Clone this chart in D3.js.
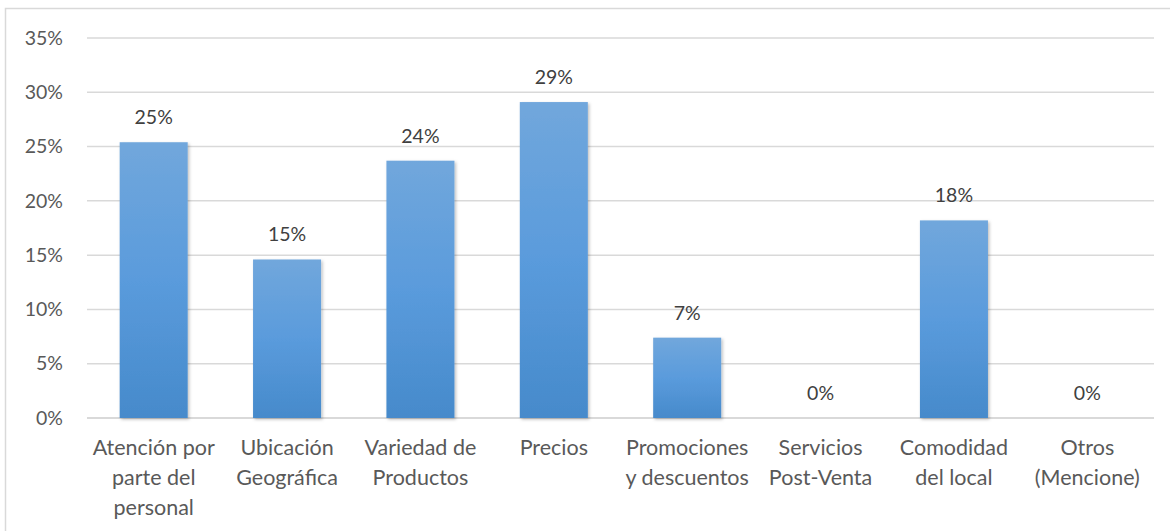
<!DOCTYPE html>
<html>
<head>
<meta charset="utf-8">
<script src="https://cdn.jsdelivr.net/npm/d3@7"></script>
<style>
  html, body { margin: 0; padding: 0; background: #ffffff; }
  svg { display: block; font-family: Lato, "Open Sans", sans-serif; }
</style>
</head>
<body>
<svg id="chart" width="1170" height="531"></svg>
<script>
// Factors valued by customers (share of responses)
const categories = [
  "Atención por\nparte del\npersonal",
  "Ubicación\nGeográfica",
  "Variedad de\nProductos",
  "Precios",
  "Promociones\ny descuentos",
  "Servicios\nPost-Venta",
  "Comodidad\ndel local",
  "Otros\n(Mencione)"
];
const values = [0.254, 0.146, 0.237, 0.291, 0.074, 0, 0.182, 0];
const yTicks = [0, 0.05, 0.10, 0.15, 0.20, 0.25, 0.30, 0.35];

const svg = d3.select("#chart");
const W = 1170, H = 531;
const margin = { left: 87, right: 16, top: 38, bottom: 113 };

// Outer frame of the chart area
svg.append("rect")
  .attr("x", 5.5).attr("y", 8.5)
  .attr("width", W + 10).attr("height", H + 10)
  .attr("fill", "#ffffff")
  .attr("stroke", "#d9d9d9").attr("stroke-width", 1.5);

const x = d3.scaleBand()
  .domain(categories)
  .range([margin.left, W - margin.right])
  .paddingInner(0.49)
  .paddingOuter(0.245);

const y = d3.scaleLinear()
  .domain([0, 0.35])
  .range([H - margin.bottom, margin.top]);

const pct = d3.format(".0%");

// Vertical gradient and soft shadow for the bars
const defs = svg.append("defs");
const grad = defs.append("linearGradient")
  .attr("id", "barFill").attr("x1", 0).attr("y1", 0).attr("x2", 0).attr("y2", 1);
grad.append("stop").attr("offset", "0%").attr("stop-color", "#71a7dc");
grad.append("stop").attr("offset", "50%").attr("stop-color", "#5a9bdc");
grad.append("stop").attr("offset", "100%").attr("stop-color", "#468acb");

const shadow = defs.append("filter").attr("id", "barShadow")
  .attr("x", "-20%").attr("y", "-10%").attr("width", "140%").attr("height", "120%");
shadow.append("feDropShadow")
  .attr("dx", 1.5).attr("dy", 1.5).attr("stdDeviation", 1.5)
  .attr("flood-color", "#000000").attr("flood-opacity", 0.25);

// Horizontal gridlines
svg.append("g")
  .selectAll("line")
  .data(yTicks)
  .join("line")
  .attr("x1", margin.left).attr("x2", W - margin.right)
  .attr("y1", d => y(d)).attr("y2", d => y(d))
  .attr("stroke", "#d9d9d9").attr("stroke-width", d => d === 0 ? 2 : 1.5);

// Y axis labels
const yAxis = svg.append("g")
  .attr("transform", `translate(${margin.left - 24},0)`)
  .call(d3.axisLeft(y).tickValues(yTicks).tickFormat(pct).tickSize(0).tickPadding(0));
yAxis.select(".domain").remove();
yAxis.selectAll("text")
  .attr("font-family", "Lato, 'Open Sans', sans-serif")
  .attr("font-size", 19.5)
  .attr("fill", "#595959");

// Bars
svg.append("g")
  .selectAll("rect")
  .data(values.map((v, i) => ({ c: categories[i], v })).filter(d => d.v > 0))
  .join("rect")
  .attr("x", d => x(d.c))
  .attr("y", d => y(d.v))
  .attr("width", x.bandwidth())
  .attr("height", d => y(0) - y(d.v))
  .attr("fill", "url(#barFill)")
  .attr("filter", "url(#barShadow)");

// Value labels above the bars
svg.append("g")
  .selectAll("text")
  .data(values.map((v, i) => ({ c: categories[i], v })))
  .join("text")
  .attr("x", d => x(d.c) + x.bandwidth() / 2)
  .attr("y", d => y(d.v) - 18)
  .attr("text-anchor", "middle")
  .attr("font-size", 19.5)
  .attr("fill", "#404040")
  .text(d => pct(d.v));

// Category labels (multi-line)
const xAxis = svg.append("g")
  .attr("transform", `translate(0,${y(0)})`)
  .call(d3.axisBottom(x).tickSize(0).tickFormat(""));
xAxis.select(".domain").remove();
xAxis.selectAll(".tick").each(function(d) {
  const t = d3.select(this).append("text")
    .attr("text-anchor", "middle")
    .attr("font-family", "Lato, 'Open Sans', sans-serif")
    .attr("font-size", 21.5)
    .attr("fill", "#595959");
  d.split("\n").forEach((line, i) => {
    t.append("tspan").attr("x", 0).attr("y", 37 + i * 30).text(line);
  });
});
</script>
</body>
</html>
